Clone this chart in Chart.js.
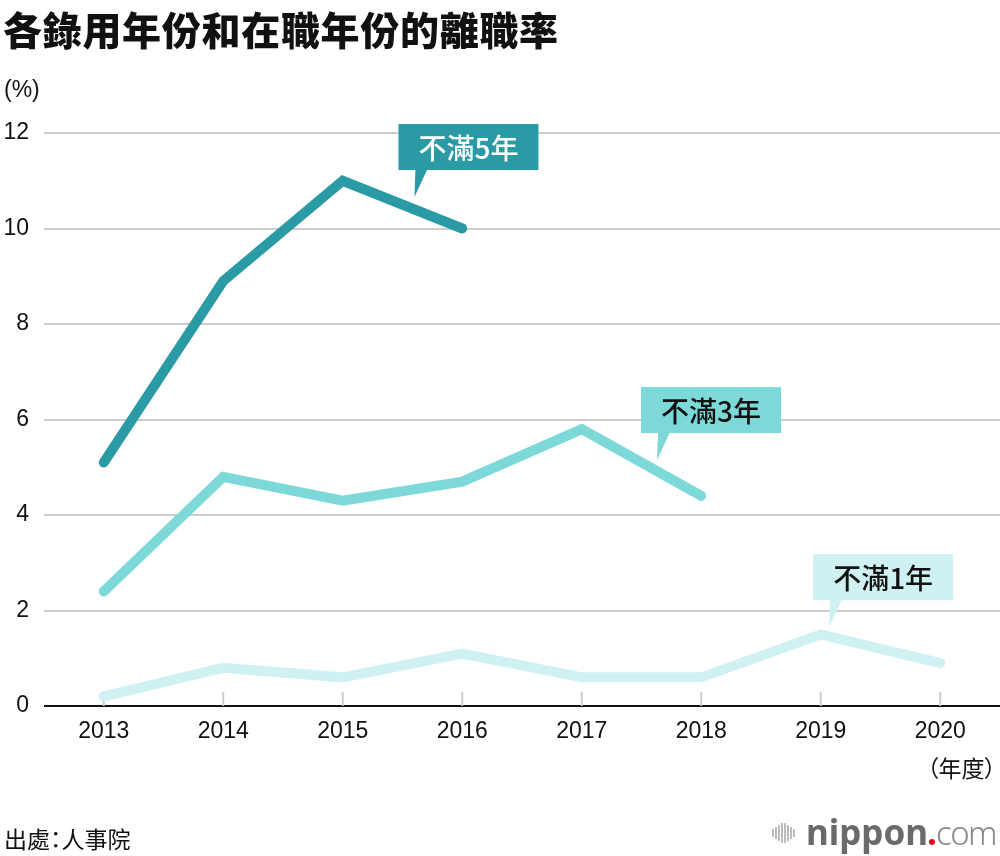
<!DOCTYPE html>
<html>
<head>
<meta charset="utf-8">
<script src="https://cdn.jsdelivr.net/npm/chart.js@4"></script>
<style>
  body { margin: 0; background: #fff; }
  #wrap { position: relative; width: 1000px; height: 856px; overflow: hidden; }
  #grafico { position: absolute; left: 0; top: 0; }
  .txt { position: absolute; white-space: nowrap; color: #111; }
  #titulo { left: 3px; top: 0px; font: 900 39px "Noto Sans CJK TC"; letter-spacing: 0.7px; }
  #unidad { left: 4px; top: 76px; font: 23px "Liberation Sans"; }
  #anio { left: 927px; top: 750px; font: 23px "Noto Sans CJK TC"; font-feature-settings: "palt"; }
  #fuente { left: 4px; top: 821px; font: 23px "Noto Sans CJK TC"; font-feature-settings: "palt"; }
  #logo { left: 772px; top: 812px; height: 40px; }
  #logo .barras { position: absolute; left: 0; top: 11px; }
  #logo .barras span { position: absolute; width: 2px; background: #bbb; }
  #logo .marca { position: absolute; left: 34px; top: -4px; font: bold 35px "Noto Sans"; color: #6a6a6a; }
  #logo .marca .punto { color: #e60012; margin: 0 -1px; }
  #logo .marca .com { font-weight: 300; color: #8a8a8a; font-size: 33px; letter-spacing: -1.5px; }
</style>
</head>
<body>
<div id="wrap">
  <canvas id="grafico" width="1000" height="856"></canvas>
  <div class="txt" id="titulo">各錄用年份和在職年份的離職率</div>
  <div class="txt" id="unidad">(%)</div>
  <div class="txt" id="anio">（年度）</div>
  <div class="txt" id="fuente">出處：人事院</div>
  <div class="txt" id="logo">
    <div class="barras" id="barras"></div>
    <div class="marca">nippon<span class="punto">.</span><span class="com">com</span></div>
  </div>
</div>
<script>
const anios = ["2013", "2014", "2015", "2016", "2017", "2018", "2019", "2020"];
const menos5 = [5.1, 8.9, 11.0, 10.0, null, null, null, null];
const menos3 = [2.4, 4.8, 4.3, 4.7, 5.8, 4.4, null, null];
const menos1 = [0.2, 0.8, 0.6, 1.1, 0.6, 0.6, 1.5, 0.9];
const ticksY = [0, 2, 4, 6, 8, 10, 12];

const etiquetas = ["不滿5年", "不滿3年", "不滿1年"];
const colores = ["#2a9aa4", "#7dd8d8", "#d0f1f2"];
const coloresTexto = ["#ffffff", "#111111", "#111111"];
// punta de cada globo (indice de categoria, valor)
const globoIdx = [2.6, 4.63, 6.07];
const globoVal = [10.66, 5.15, 1.65];

// barras del logo
const barrasAlto = [8, 12, 16, 20, 20, 16, 12, 8];
const barras = document.getElementById("barras");
barrasAlto.forEach((h, i) => {
  const s = document.createElement("span");
  s.style.left = (i * 3) + "px";
  s.style.top = (10 - h / 2) + "px";
  s.style.height = h + "px";
  barras.appendChild(s);
});

const marcasX = {
  id: "marcasX",
  beforeDatasetsDraw(chart) {
    const { ctx, scales: { x, y } } = chart;
    const base = y.getPixelForValue(0);
    ctx.save();
    ctx.strokeStyle = "#cccccc";
    ctx.lineWidth = 2;
    anios.forEach((a, i) => {
      const px = x.getPixelForValue(i);
      ctx.beginPath();
      ctx.moveTo(px, base);
      ctx.lineTo(px, base - 14);
      ctx.stroke();
    });
    ctx.restore();
  }
};

const globos = {
  id: "globos",
  afterDatasetsDraw(chart) {
    const { ctx, scales: { x, y } } = chart;
    ctx.save();
    etiquetas.forEach((txt, i) => {
      const tx = x.getPixelForValue(globoIdx[i]);
      const ty = y.getPixelForValue(globoVal[i]);
      const bx = tx - 16, by = ty - 73, bw = 140, bh = 46;
      ctx.fillStyle = colores[i];
      ctx.fillRect(bx, by, bw, bh);
      ctx.beginPath();
      ctx.moveTo(tx + 1, by + bh - 1);
      ctx.lineTo(tx + 13, by + bh - 1);
      ctx.lineTo(tx, ty);
      ctx.closePath();
      ctx.fill();
      ctx.fillStyle = coloresTexto[i];
      ctx.font = '500 28px "Noto Sans CJK TC"';
      ctx.textAlign = "center";
      ctx.textBaseline = "middle";
      ctx.fillText(txt, bx + bw / 2, by + bh / 2 + 1);
    });
    ctx.restore();
  }
};

const series = [menos5, menos3, menos1];
new Chart(document.getElementById("grafico"), {
  type: "line",
  data: {
    labels: anios,
    datasets: series.map((d, i) => ({
      label: etiquetas[i],
      data: d,
      borderColor: colores[i],
      borderWidth: 10,
      borderCapStyle: "round",
      borderJoinStyle: "miter",
      pointRadius: 0,
      tension: 0,
      fill: false,
      spanGaps: false,
      order: 3 - i
    })).reverse()
  },
  options: {
    responsive: false,
    animation: false,
    devicePixelRatio: 1,
    layout: { padding: { top: 133, right: 0, left: 0, bottom: 0 } },
    plugins: { legend: { display: false }, tooltip: { enabled: false } },
    scales: {
      x: {
        offset: true,
        grid: { display: false, drawTicks: false },
        border: { display: false },
        ticks: {
          padding: 12,
          color: "#111",
          font: { family: "Liberation Sans", size: 23 },
          maxRotation: 0
        },
        afterFit: s => { s.height = 150; }
      },
      y: {
        min: 0,
        max: 12,
        afterBuildTicks: s => { s.ticks = ticksY.map(v => ({ value: v })); },
        grid: {
          drawTicks: false,
          lineWidth: 2,
          color: c => c.tick && c.tick.value === 0 ? "#111" : "#cccccc"
        },
        border: { display: false },
        ticks: {
          padding: 15,
          color: "#111",
          font: { family: "Liberation Sans", size: 23 }
        },
        afterFit: s => { s.width = 44; }
      }
    }
  },
  plugins: [marcasX, globos]
});
</script>
</body>
</html>
